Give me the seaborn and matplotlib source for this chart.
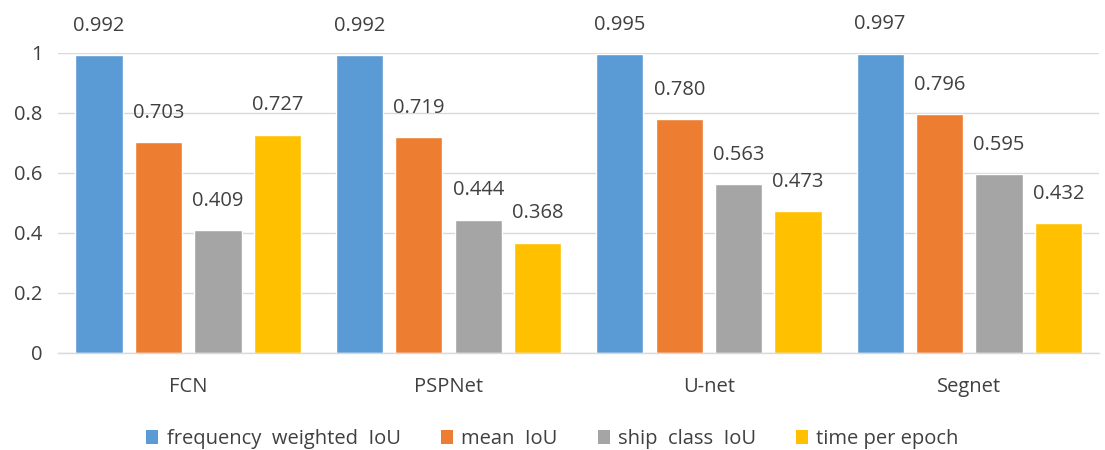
import matplotlib
matplotlib.use("Agg")
import matplotlib.pyplot as plt
import seaborn as sns
import pandas as pd
from matplotlib.patches import Patch

models = ["FCN", "PSPNet", "U-net", "Segnet"]
metrics = ["frequency  weighted  IoU", "mean  IoU", "ship  class  IoU", "time per epoch"]
freq_weighted_iou = [0.992, 0.992, 0.995, 0.997]
mean_iou = [0.703, 0.719, 0.780, 0.796]
ship_class_iou = [0.409, 0.444, 0.563, 0.595]
time_per_epoch = [0.727, 0.368, 0.473, 0.432]

series = [freq_weighted_iou, mean_iou, ship_class_iou, time_per_epoch]
rows = []
for m, vals in zip(metrics, series):
    for mod, v in zip(models, vals):
        rows.append({"model": mod, "metric": m, "value": v})
df = pd.DataFrame(rows)

colors = ["#5B9BD5", "#ED7D31", "#A5A5A5", "#FFC000"]
text_color = "#404040"

sns.set_theme(style="white")
plt.rcParams["font.family"] = ["Open Sans", "DejaVu Sans"]

fig = plt.figure(figsize=(11.05, 4.5), dpi=100)
ax = fig.add_axes([0.0525, 0.2156, 0.9425, 0.6667])

sns.barplot(data=df, x="model", y="value", hue="metric", order=models,
            hue_order=metrics, palette=colors, width=0.913, gap=0.206,
            saturation=1, legend=False, ax=ax)

for cont in ax.containers:
    for bar in cont:
        h = bar.get_height()
        ax.annotate(f"{h:.3f}", (bar.get_x() + bar.get_width() / 2, h),
                    xytext=(0, 14), textcoords="offset points",
                    ha="center", va="bottom", fontsize=14.5, color=text_color,
                    annotation_clip=False)

ax.set_ylim(0, 1)
ax.set_xlim(-0.5, 3.5)
ax.set_yticks([0, 0.2, 0.4, 0.6, 0.8, 1.0])
ax.set_yticklabels(["0", "0.2", "0.4", "0.6", "0.8", "1"])
ax.yaxis.grid(True, color="#D9D9D9", linewidth=1)
ax.set_axisbelow(True)
for s in ["top", "right", "left"]:
    ax.spines[s].set_visible(False)
ax.spines["bottom"].set_color("#D9D9D9")
ax.spines["bottom"].set_linewidth(1)
ax.set_xlabel("")
ax.set_ylabel("")
ax.tick_params(axis="y", length=0, labelsize=14.5, labelcolor=text_color, pad=11)
ax.tick_params(axis="x", length=0, labelsize=14.5, labelcolor=text_color, pad=17)
# category separator ticks
ax.set_xticks([-0.5, 0.5, 1.5, 2.5, 3.5], minor=True)
ax.tick_params(axis="x", which="minor", length=6, color="#D9D9D9", width=1)

handles = [Patch(facecolor=c, edgecolor="none") for c in colors]
fig.legend(handles, metrics, loc="lower center", bbox_to_anchor=(0.5, -0.038),
           ncol=4, frameon=False, fontsize=14.5, handlelength=0.6, handleheight=0.7,
           handletextpad=0.4, columnspacing=2.0, labelcolor=text_color)

fig.savefig("out.png", dpi=100)
